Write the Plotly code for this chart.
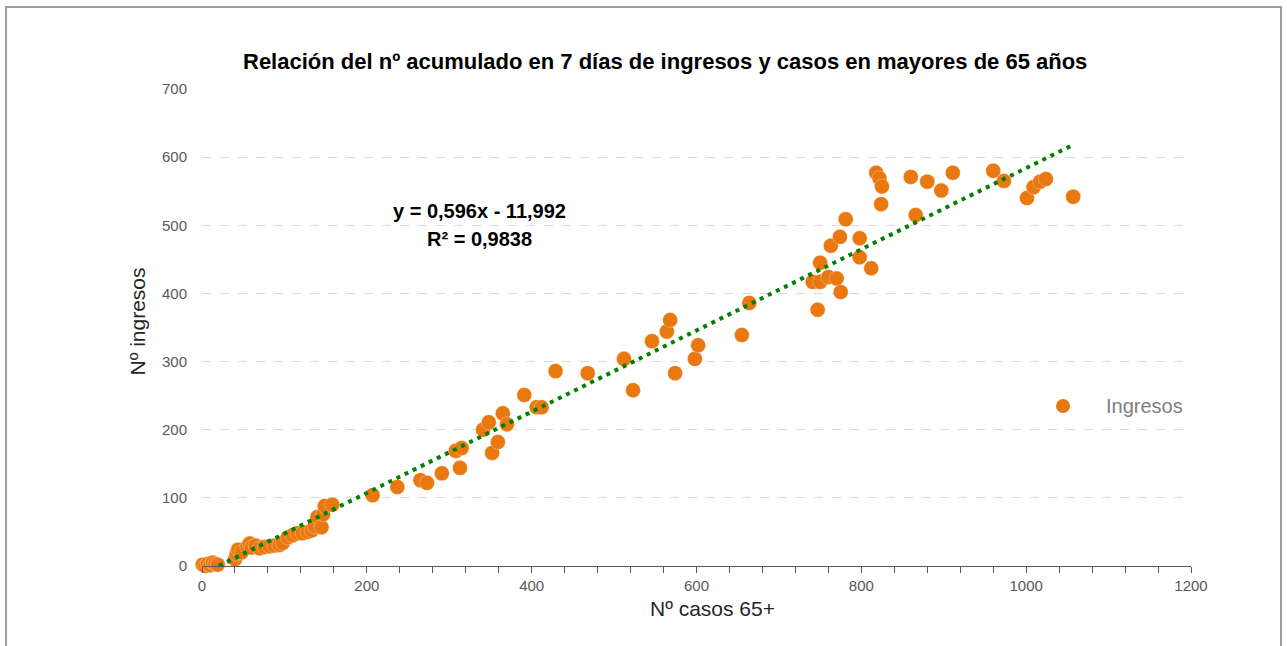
import plotly.graph_objects as go

# Data
casos_65 = [1, 4, 7, 10, 13, 16, 19,
            40, 42, 44, 48, 55, 58, 60, 65, 70, 76, 82, 88, 94, 98, 104, 110, 116, 122, 128, 133, 137, 140, 145, 147, 149, 158,
            207, 237, 265, 273, 291, 308, 313, 315, 341, 348, 352, 359, 365, 370, 391, 406, 412, 429, 468, 512, 523, 546,
            564, 568, 574, 598, 602, 655, 664,
            741, 747, 750, 750, 760, 763, 770, 774, 775, 781, 798, 798, 812, 818, 822, 825, 824, 860, 866, 880, 897, 911,
            960, 973, 1001, 1009, 1017, 1024, 1057]
ingresos = [2, 0, 3, 1, 5, 3, 2,
            10, 18, 24, 20, 28, 33, 27, 30, 26, 28, 29, 30, 31, 34, 42, 45, 48, 48, 50, 52, 58, 72, 57, 76, 88, 90,
            104, 116, 126, 122, 136, 169, 144, 173, 200, 211, 166, 182, 224, 208, 251, 233, 233, 286, 283, 304, 258, 330,
            344, 361, 283, 304, 324, 339, 386,
            417, 376, 417, 445, 424, 470, 422, 483, 402, 509, 481, 453, 437, 577, 569, 557, 531, 571, 515, 564, 551, 577,
            580, 565, 540, 556, 564, 568, 542]

slope = 0.596
intercept = -11.992
r2 = 0.9838

title_text = "Relación del nº acumulado en 7 días de ingresos y casos en mayores de 65 años"
x_title = "Nº casos 65+"
y_title = "Nº ingresos"
series_name = "Ingresos"
x_ticks = [0, 200, 400, 600, 800, 1000, 1200]
y_ticks = [0, 100, 200, 300, 400, 500, 600, 700]

FONT = "Liberation Sans"
ORANGE = "#E8780F"
GREEN = "#008000"

x_min, x_max = min(casos_65), max(casos_65)
trend_x = [x_min, x_max]
trend_y = [slope * v + intercept for v in trend_x]

fig = go.Figure()
fig.add_trace(go.Scatter(
    x=casos_65, y=ingresos, mode="markers", name=series_name,
    marker=dict(color=ORANGE, size=15, line=dict(color="rgba(255,255,255,0.6)", width=0.5)),
    showlegend=False, cliponaxis=False))
fig.add_trace(go.Scatter(
    x=trend_x, y=trend_y, mode="lines",
    line=dict(color=GREEN, width=4, dash="4px,5px"),
    showlegend=False, hoverinfo="skip"))

def fmt(v, nd):
    return f"{v:.{nd}f}".replace(".", ",")

eq_text = f"y = {fmt(slope,3)}x - {fmt(abs(intercept),3)}"
r2_text = f"R² = {fmt(r2,4)}"

annotations = [
    dict(x=0.468, y=1.088, xref="paper", yref="paper", text=f"<b>{title_text}</b>",
         showarrow=False, font=dict(family=FONT, size=22, color="#000000")),
    dict(x=337, y=521, xref="x", yref="y", text=f"<b>{eq_text}</b>",
         showarrow=False, font=dict(family=FONT, size=20, color="#000000")),
    dict(x=337, y=480, xref="x", yref="y", text=f"<b>{r2_text}</b>",
         showarrow=False, font=dict(family=FONT, size=20, color="#000000")),
    dict(x=(1104 - 202) / 989, y=(566 - 406) / 477, xref="paper", yref="paper", text=series_name,
         xanchor="left", showarrow=False, font=dict(family=FONT, size=20, color="#7F7F7F")),
    dict(x=(712 - 202) / 989, y=(566 - 622) / 477, xref="paper", yref="paper", text=x_title,
         showarrow=False, font=dict(family=FONT, size=21, color="#262626")),
    dict(x=(123 - 202) / 989, y=(566 - 322) / 477, xref="paper", yref="paper", text=y_title,
         textangle=-90, showarrow=False, font=dict(family=FONT, size=21, color="#262626")),
]

shapes = [
    dict(type="rect", xref="paper", yref="paper",
         x0=(6 - 202) / 989, x1=(1281 - 202) / 989, y0=(566 - 680) / 477, y1=(566 - 7) / 477,
         line=dict(color="#7F7F7F", width=1.5), layer="below"),
    dict(type="circle", xref="paper", yref="paper", xsizemode="pixel", ysizemode="pixel",
         xanchor=(1063 - 202) / 989, yanchor=(566 - 406) / 477,
         x0=-7, x1=7, y0=-7, y1=7, fillcolor=ORANGE, line=dict(width=0)),
]

fig.update_layout(
    width=1287, height=646,
    margin=dict(l=202, r=96, t=89, b=80),
    paper_bgcolor="white", plot_bgcolor="white",
    font=dict(family=FONT, color="#595959", size=15),
    annotations=annotations, shapes=shapes,
    showlegend=False,
)
fig.update_xaxes(
    range=[0, 1200], tickvals=x_ticks, ticktext=[str(v) for v in x_ticks],
    showgrid=False, zeroline=False,
    showline=True, linecolor="#595959", linewidth=1.3,
    ticks="outside", ticklen=6, tickcolor="#595959", tickwidth=1.3,
    minor=dict(dtick=40, tick0=0, ticks="outside", ticklen=6, tickcolor="#595959", tickwidth=1.3, showgrid=False),
    tickfont=dict(size=15, color="#595959"),
)
fig.update_yaxes(
    range=[0, 700], tickvals=y_ticks, ticktext=[str(v) for v in y_ticks],
    showgrid=True, gridcolor="#D9D9D9", griddash="dash", gridwidth=1,
    zeroline=False, showline=False, ticks="", ticklabelstandoff=14,
    tickfont=dict(size=15, color="#595959"),
)

fig.write_html("out.html", config={"displayModeBar": False},
               post_script="document.body.style.margin='0';document.body.style.padding='0';document.body.style.overflow='hidden';")
